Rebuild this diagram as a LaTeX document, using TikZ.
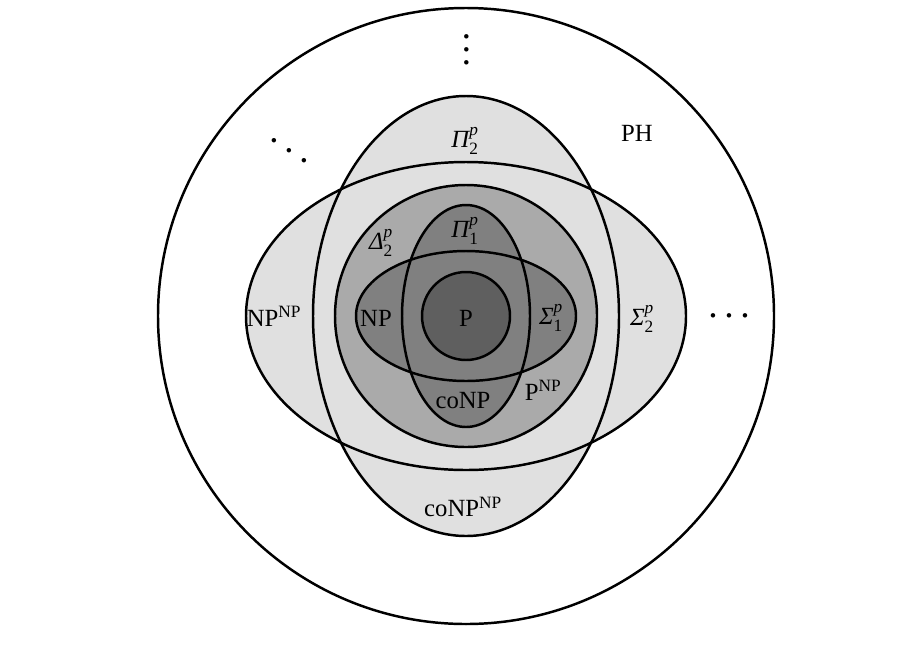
\documentclass[tikz,border=0pt]{standalone}
\usepackage{amsmath}
\usepackage{fontspec}
\setmainfont{Liberation Serif}
\definecolor{light-grey}{HTML}{E0E0E0}
\definecolor{mid-grey}{HTML}{AAAAAA}
\definecolor{dark-grey}{HTML}{808080}
\definecolor{deep-grey}{HTML}{5F5F5F}
\newcommand{\hlevel}[3]{$\text{\itshape #1}^{\text{\itshape #2}}_{\text{#3}}$}
\newcommand{\dotrow}[1]{.\kern#1.\kern#1.}

\begin{document}
\begin{tikzpicture}[x=0.85pt, y=-0.85pt, line width=2.1pt,
    every node/.style={font=\fontsize{21}{25}\selectfont, inner sep=0pt},
    dotsnode/.style={font=\fontsize{32}{32}\selectfont}]
    \useasboundingbox (0, 0) rectangle (923, 651);
    \draw (466, 316) circle (308);
    \fill[light-grey] (466, 316) ellipse [x radius=153, y radius=220];
    \fill[light-grey] (466, 316) ellipse [x radius=220, y radius=154];
    \draw (466, 316) ellipse [x radius=153, y radius=220];
    \draw (466, 316) ellipse [x radius=220, y radius=154];
    \draw[fill=mid-grey] (466, 316) circle (131);
    \fill[dark-grey] (466, 316) ellipse [x radius=64, y radius=111];
    \fill[dark-grey] (466, 316) ellipse [x radius=110, y radius=65];
    \draw (466, 316) ellipse [x radius=64, y radius=111];
    \draw (466, 316) ellipse [x radius=110, y radius=65];
    \draw[fill=deep-grey] (466, 316) circle (44);
    % labels
    \node (ph) at (637, 133) {PH};
    \node (pi2) at (465, 141) {\hlevel{Π}{p}{2}};
    \node (npnp) at (274, 316) {NP\textsuperscript{NP}};
    \node (sigma2) at (642, 319) {\hlevel{Σ}{p}{2}};
    \node (delta2) at (381, 243) {\hlevel{Δ}{p}{2}};
    \node (pi1) at (465, 231) {\hlevel{Π}{p}{1}};
    \node (np) at (376, 318) {NP};
    \node (p) at (466, 318) {P};
    \node (sigma1) at (551, 318) {\hlevel{Σ}{p}{1}};
    \node (conp) at (463, 401) {coNP};
    \node (pnp) at (543, 390) {P\textsuperscript{NP}};
    \node (conpnp) at (463, 507) {coNP\textsuperscript{NP}};
    % dots
    \node[dotsnode, rotate=90] (vdots) at (467, 50) {\dotrow{3pt}};
    \node[dotsnode, rotate=-33.7] (ddots) at (289, 151) {\dotrow{7.3pt}};
    \node[dotsnode] (cdots) at (729, 316) {\dotrow{5.6pt}};
\end{tikzpicture}
\end{document}
